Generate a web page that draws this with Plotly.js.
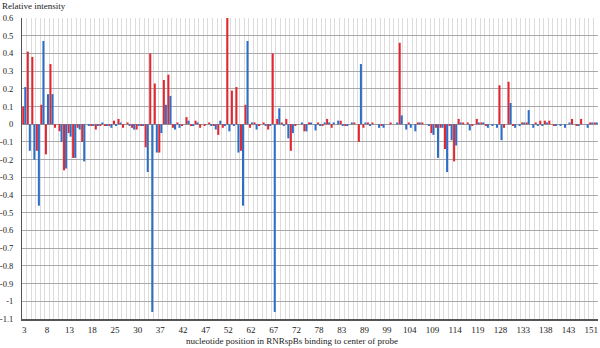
<!DOCTYPE html>
<html>
<head>
<meta charset="utf-8">
<script src="https://cdn.plot.ly/plotly-3.0.1.min.js"></script>
<style>html,body{margin:0;padding:0;background:#fff;}#chart{width:600px;height:348px;}</style>
</head>
<body>
<div id="chart"></div>
<script>
// Relative intensity per nucleotide slot (one value per category, left to right)
const redSeries = [
  0.10, 0.41, 0.38, -0.15, 0.11, -0.17, 0.34, -0.02, -0.04, -0.26,
  -0.05, -0.19, -0.02, -0.10, 0.00, -0.01, -0.03, -0.01, -0.01, -0.01,
  0.02, 0.03, -0.02, 0.01, -0.02, -0.03, -0.01, -0.13, 0.40, 0.23,
  -0.16, 0.25, 0.28, -0.02, 0.01, -0.01, 0.04, -0.01, 0.02, -0.02,
  -0.01, 0.01, -0.01, -0.06, -0.02, 0.60, 0.19, 0.21, -0.15, 0.11,
  -0.02, 0.01, -0.01, 0.01, -0.03, 0.40, 0.03, 0.01, 0.03, -0.15,
  -0.01, 0.00, -0.04, 0.01, 0.00, 0.01, -0.01, 0.03, -0.02, 0.00,
  0.02, -0.01, 0.00, 0.01, -0.10, -0.02, 0.01, 0.01, 0.00, -0.01,
  0.00, 0.01, 0.00, 0.46, 0.00, 0.01, 0.00, 0.01, 0.01, 0.00,
  -0.05, -0.02, -0.02, -0.14, -0.01, -0.21, 0.03, 0.01, 0.01, -0.01,
  0.03, 0.01, -0.01, 0.00, 0.00, 0.22, -0.02, 0.24, -0.01, 0.00,
  0.01, 0.01, 0.00, 0.01, 0.02, 0.02, 0.02, -0.01, 0.00, 0.00,
  0.00, 0.03, -0.01, 0.03, 0.00, 0.01, 0.01
];
const blueSeries = [
  0.21, -0.15, -0.20, -0.46, 0.47, 0.17, 0.17, 0.00, -0.10, -0.25,
  -0.07, -0.19, -0.03, -0.21, -0.01, -0.01, -0.01, 0.01, -0.01, -0.02,
  -0.01, 0.01, 0.00, -0.01, -0.03, -0.01, -0.01, -0.27, -1.06, -0.16,
  -0.05, 0.11, 0.16, -0.03, -0.02, 0.00, 0.02, -0.01, 0.01, 0.00,
  0.00, -0.01, -0.03, 0.02, -0.01, -0.04, -0.01, -0.16, -0.46, 0.47,
  0.01, -0.03, 0.00, -0.01, -0.01, -1.06, 0.09, -0.01, -0.08, -0.05,
  0.00, 0.01, -0.04, 0.01, -0.035, -0.01, 0.01, 0.01, 0.01, 0.02,
  -0.01, -0.01, 0.01, 0.00, 0.34, 0.01, -0.01, 0.00, -0.02, -0.02,
  0.00, 0.00, 0.01, 0.05, -0.03, -0.02, -0.04, 0.01, 0.00, -0.01,
  -0.06, -0.19, -0.02, -0.27, -0.09, -0.12, 0.01, 0.00, -0.035, 0.00,
  0.01, 0.01, -0.02, -0.01, -0.02, -0.09, 0.00, 0.12, -0.02, -0.01,
  0.01, 0.08, -0.02, -0.01, -0.01, 0.01, 0.00, -0.01, -0.01, -0.02,
  0.01, 0.00, -0.01, 0.00, -0.02, 0.01, 0.01
];
// Category axis labels (shown every 5th category)
const xTickLabels = ["3","8","13","18","25","30","37","42","47","52","62","67","72","78","83","89","99","104","109","114","119","128","133","138","143","151"];
const labelEvery = 5;
const yTickValues = [0.6,0.5,0.4,0.3,0.2,0.1,0,-0.1,-0.2,-0.3,-0.4,-0.5,-0.6,-0.7,-0.8,-0.9,-1,-1.1];
const yTickLabels = ["0.6","0.5","0.4","0.3","0.2","0.1","0","-0.1","-0.2","-0.3","-0.4","-0.5","-0.6","-0.7","-0.8","-0.9","-1","-1.1"];

const slots = redSeries.map((_, i) => i);
const xTickPositions = xTickLabels.map((_, k) => k * labelEvery);
const serif = "Liberation Serif, Times New Roman, serif";

const traces = [
  {type: 'bar', x: slots, y: redSeries, marker: {color: '#E3262F', line: {width: 0}}, name: 'red', hoverinfo: 'x+y'},
  {type: 'bar', x: slots, y: blueSeries, marker: {color: '#2C6FC9', line: {width: 0}}, name: 'blue', hoverinfo: 'x+y'}
];

const PW = 576, PH = 301;
const layout = {
  width: 600, height: 348,
  margin: {l: 22, r: 2, t: 18, b: 29, pad: 0},
  paper_bgcolor: '#fff', plot_bgcolor: '#fff',
  showlegend: false,
  barmode: 'group', bargap: 0.1, bargroupgap: 0,
  font: {family: serif, size: 9, color: '#222'},
  xaxis: {
    range: [-0.5, slots.length - 0.5],
    tickmode: 'array', tickvals: xTickPositions, ticktext: xTickLabels,
    showgrid: false, zeroline: false,
    showline: true, linecolor: '#555', linewidth: 1.5,
    ticks: '', ticklabelstandoff: 2,
    tickfont: {family: serif, size: 9, color: '#222'},
    minor: {tick0: -0.5, dtick: 1, showgrid: true, gridcolor: '#DCDCDC', gridwidth: 1, ticks: ''},
    fixedrange: true
  },
  yaxis: {
    range: [-1.1, 0.6],
    tickmode: 'array', tickvals: yTickValues, ticktext: yTickLabels,
    showgrid: true, gridcolor: '#A9A9A9', gridwidth: 1,
    zeroline: true, zerolinecolor: '#9A9A9A', zerolinewidth: 1,
    showline: true, linecolor: '#555', linewidth: 1,
    ticks: '', ticklabelstandoff: 6,
    tickfont: {family: serif, size: 8.5, color: '#222'},
    fixedrange: true
  },
  annotations: [
    {text: 'Relative intensity', xref: 'paper', yref: 'paper', x: -22/PW, y: 1 + 12/PH, xanchor: 'left', yanchor: 'middle', showarrow: false, font: {family: serif, size: 9, color: '#222'}},
    {text: 'nucleotide position in RNRspBs binding to center of probe', xref: 'paper', yref: 'paper', x: (292-22)/PW, y: -22/PH, xanchor: 'center', yanchor: 'middle', showarrow: false, font: {family: serif, size: 9, color: '#222'}}
  ]
};

Plotly.newPlot('chart', traces, layout, {displayModeBar: false, staticPlot: true});
</script>
</body>
</html>
